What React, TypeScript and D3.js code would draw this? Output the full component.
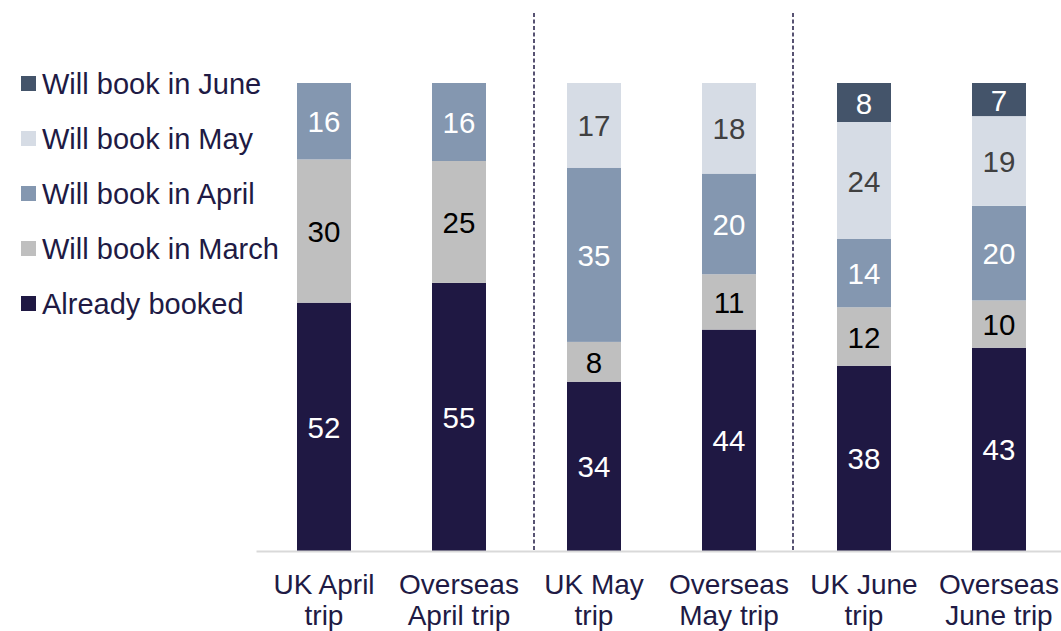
import React from "react";
import * as d3 from "d3";

const categories = ["UK April trip", "Overseas April trip", "UK May trip", "Overseas May trip", "UK June trip", "Overseas June trip"];
const categoryLines = [["UK April", "trip"], ["Overseas", "April trip"], ["UK May", "trip"], ["Overseas", "May trip"], ["UK June", "trip"], ["Overseas", "June trip"]];
const seriesNames = ["Already booked", "Will book in March", "Will book in April", "Will book in May", "Will book in June"];
const alreadyBooked = [52, 55, 34, 44, 38, 43];
const bookMarch = [30, 25, 8, 11, 12, 10];
const bookApril = [16, 16, 35, 20, 14, 20];
const bookMay = [0, 0, 17, 18, 24, 19];
const bookJune = [0, 0, 0, 0, 8, 7];
const separatorsAfter = [1, 3];

const colors = ["#1f1843", "#bfbfbf", "#8497b0", "#d6dce5", "#44546a"];
const labelColors = ["#ffffff", "#000000", "#ffffff", "#404040", "#ffffff"];
const textColor = "#201a44";
const FONT = "'Liberation Sans', Arial, sans-serif";

export default function App() {
  const W = 1061, H = 631;
  const seriesValues = [alreadyBooked, bookMarch, bookApril, bookMay, bookJune];
  const rows = categories.map((c, i) => {
    const r: any = { cat: c };
    seriesNames.forEach((s, k) => (r[s] = seriesValues[k][i]));
    return r;
  });
  const stack = d3.stack<any>().keys(seriesNames).offset(d3.stackOffsetExpand);
  const stacked = stack(rows);

  const x = d3.scaleBand().domain(categories).range([256.5, 1066.5]).paddingInner(0.6).paddingOuter(0.3);
  const y = d3.scaleLinear().domain([0, 1]).range([551, 83]);
  const bw = x.bandwidth();
  const step = x.step();
  const sepOffsets = [7.5, -3.5];

  const legendOrder = [...seriesNames.keys()].reverse();

  return (
    <svg width={W} height={H} style={{ position: "absolute", left: 0, top: 0 }} fontFamily={FONT}>
      <rect width={W} height={H} fill="#ffffff" />
      {stacked.map((layer, k) => (
        <g key={layer.key}>
          {layer.map((d, i) => {
            const v = seriesValues[k][i];
            if (!v) return null;
            const x0 = x(categories[i])!;
            const y0 = y(d[1]);
            const y1 = y(d[0]);
            return (
              <g key={i}>
                <rect x={x0} y={y0} width={bw} height={y1 - y0} fill={colors[k]} />
                <text x={x0 + bw / 2} y={(y0 + y1) / 2 + 11} textAnchor="middle" fontSize={29.5} fill={labelColors[k]}>
                  {v}
                </text>
              </g>
            );
          })}
        </g>
      ))}
      <line x1={256.5} x2={W} y1={551.5} y2={551.5} stroke="#d9d9d9" strokeWidth={2} />
      {separatorsAfter.map((i, j) => {
        const sx = x(categories[i])! + bw + (step - bw) / 2 + sepOffsets[j];
        return <line key={i} x1={sx} x2={sx} y1={13} y2={551} stroke={textColor} strokeWidth={1.5} strokeDasharray="4 2.5" />;
      })}
      {categories.map((c, i) => (
        <text key={c} x={x(c)! + bw / 2} textAnchor="middle" fontSize={28} fill={textColor}>
          {categoryLines[i].map((l, j) => (
            <tspan key={j} x={x(c)! + bw / 2} y={594 + j * 31}>{l}</tspan>
          ))}
        </text>
      ))}
      {legendOrder.map((k, j) => {
        const cy = 83.5 + j * 55;
        return (
          <g key={k}>
            <rect x={21} y={cy - 7.5} width={15} height={15} fill={colors[k]} />
            <text x={42} y={cy + 10} fontSize={29} fill={textColor}>{seriesNames[k]}</text>
          </g>
        );
      })}
    </svg>
  );
}
